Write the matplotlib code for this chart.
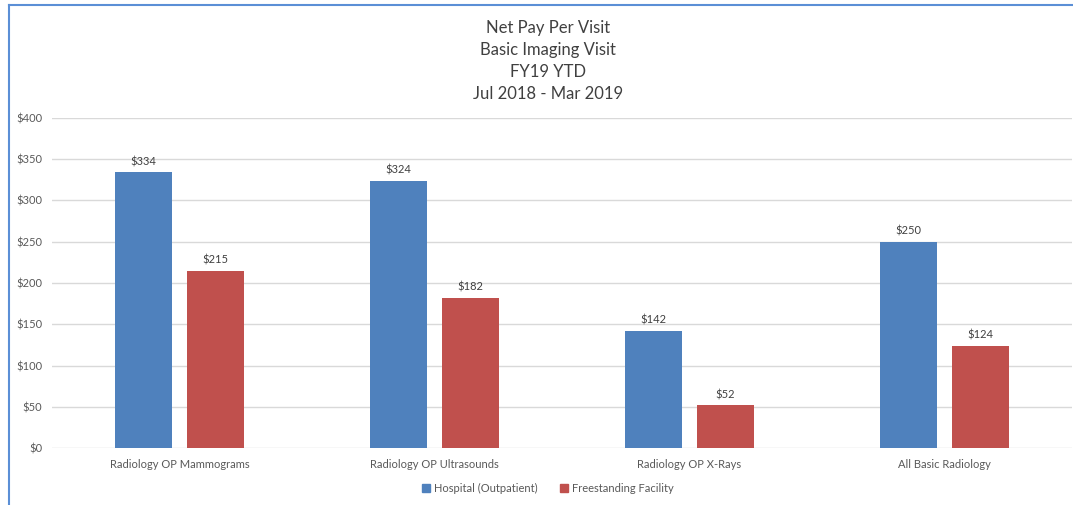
import numpy as np
import matplotlib
matplotlib.use("Agg")
import matplotlib.pyplot as plt
from matplotlib.lines import Line2D
from matplotlib.patches import Patch

categories = ["Radiology OP Mammograms", "Radiology OP Ultrasounds",
              "Radiology OP X-Rays", "All Basic Radiology"]
hospital = [334, 324, 142, 250]
freestanding = [215, 182, 52, 124]
series_names = ["Hospital (Outpatient)", "Freestanding Facility"]
yticks = [0, 50, 100, 150, 200, 250, 300, 350, 400]
title_lines = ["Net Pay Per Visit", "Basic Imaging Visit", "FY19 YTD", "Jul 2018 - Mar 2019"]

plt.rcParams['font.family'] = ['Lato', 'DejaVu Sans']

blue = "#4F81BD"
red = "#C0504D"

fig = plt.figure(figsize=(10.73, 5.05), dpi=100)
ax = fig.add_axes([52 / 1073, 1 - 448 / 505, 1020 / 1073, 330 / 505])

x = np.arange(len(categories))
w = 0.2235
off = 0.141
b1 = ax.bar(x - off, hospital, w, color=blue, zorder=3)
b2 = ax.bar(x + off, freestanding, w, color=red, zorder=3)

for bars in (b1, b2):
    for r in bars:
        ax.text(r.get_x() + r.get_width() / 2, r.get_height() + 6,
                f"${r.get_height():.0f}", ha="center", va="bottom",
                fontsize=8, color="#404040")

ax.set_xlim(-0.5, len(categories) - 0.5)
ax.set_ylim(0, 400)
ax.set_yticks(yticks)
ax.set_yticklabels([f"${v}" for v in yticks])
ax.set_xticks(x)
ax.set_xticklabels(categories)
ax.tick_params(axis="both", length=0, labelsize=8, labelcolor="#595959")
ax.tick_params(axis="y", pad=7)
ax.tick_params(axis="x", pad=8)
ax.grid(axis="y", color="#D9D9D9", linewidth=1, zorder=0)
for s in ax.spines.values():
    s.set_visible(False)

for i, line in enumerate(title_lines):
    fig.text(548 / 1073, 1 - (28 + i * 22) / 505, line, ha="center", va="center",
             fontsize=12, color="#404040")

handles = [Patch(color=blue), Patch(color=red)]
fig.legend(handles, series_names, loc="center", bbox_to_anchor=(548 / 1073, 1 - 488 / 505),
           ncol=2, frameon=False, fontsize=8, handlelength=0.7, handleheight=0.7,
           columnspacing=2.0, handletextpad=0.4, labelcolor="#595959")

border = "#5B8FD6"
fig.add_artist(Line2D([9 / 1073, 9 / 1073], [0, 1 - 5 / 505], color=border, lw=1.5,
                      transform=fig.transFigure))
fig.add_artist(Line2D([9 / 1073, 1], [1 - 5 / 505, 1 - 5 / 505], color=border, lw=1.5,
                      transform=fig.transFigure))

fig.savefig("out.png", dpi=100)
